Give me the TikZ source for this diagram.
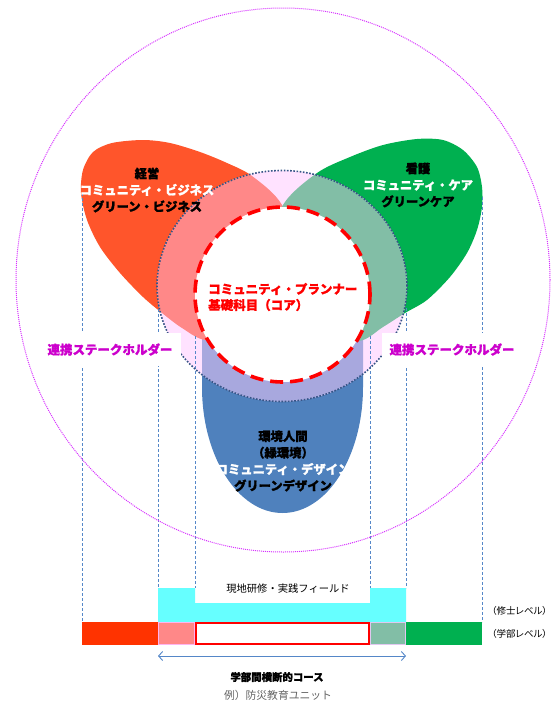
\documentclass[tikz,border=0pt]{standalone}
\usepackage{fontspec}
\newfontfamily\jp{Noto Sans CJK JP}[BoldFeatures={FakeBold=1.2}]
\newfontfamily\jpp{Noto Sans CJK JP}[RawFeature=+palt]
\usetikzlibrary{arrows.meta}
\definecolor{redA}{RGB}{255,85,43}
\definecolor{greenA}{RGB}{0,176,80}
\definecolor{blueA}{RGB}{79,129,189}
\definecolor{salmonA}{RGB}{255,136,136}
\definecolor{tealA}{RGB}{130,190,166}
\definecolor{lavA}{RGB}{168,168,222}
\definecolor{pinkA}{RGB}{255,226,255}
\definecolor{dotnavy}{RGB}{55,85,135}
\definecolor{guideblue}{RGB}{85,135,200}
\definecolor{magC}{RGB}{215,50,255}
\definecolor{magT}{RGB}{204,0,204}
\definecolor{barred}{RGB}{255,51,0}
\definecolor{cyanA}{RGB}{102,255,255}
\definecolor{pinkB}{RGB}{255,180,240}
\definecolor{lavB}{RGB}{225,200,240}
\definecolor{grayT}{RGB}{100,100,100}
\begin{document}
\begin{tikzpicture}[x=1pt,y=-1pt,
  vguide/.style={draw=guideblue, line width=0.8pt, dash pattern=on 3pt off 2pt},
  grp/.style={font=\jp\bfseries\fontsize{12.3}{16.5}\selectfont, align=center, inner sep=0pt},
  stake/.style={fill=white, text=magT, font=\jp\bfseries\fontsize{12.5}{14}\selectfont, inner xsep=8pt, inner ysep=0pt, minimum height=33pt},
  small/.style={font=\jp\fontsize{10.3}{12}\selectfont, inner sep=0pt},
  level/.style={font=\jpp\fontsize{9.5}{11}\selectfont, inner sep=0pt}
]
\useasboundingbox (0,0) rectangle (551,702);

\def\redpath{plot[smooth cycle] coordinates {(300,262) (282,205) (252,176) (227,163) (200,152) (170,143) (143,140) (112,143) (93,152) (83,170) (81,193) (87,220) (100,247) (120,273) (143,297) (162,313) (182,328) (206,340) (245,332)}}
\def\greenpath{plot[smooth cycle] coordinates {(265,262) (320,333) (359,341) (383,327) (405,313) (427,300) (450,277) (467,253) (477,230) (482,207) (482,187) (477,167) (463,150) (443,140) (417,139) (383,145) (350,157) (317,173) (283,205)}}
\def\bluepath{(202,300) -- (202,387) arc[start angle=180, end angle=360, x radius=80.5pt, y radius=126pt] -- (363,300) -- cycle}
\def\ringpath{(282,286) ellipse [x radius=125pt, y radius=115.5pt]}

% base petals
\fill[blueA] \bluepath;
\fill[redA] \redpath;
\fill[greenA] \greenpath;

% overlap ring
\fill[pinkA] \ringpath;
\begin{scope}
  \clip \ringpath;
  \fill[lavA] \bluepath;
  \fill[salmonA] \redpath;
  \fill[tealA] \greenpath;
\end{scope}

% guide lines
\coordinate (g1t) at (82,193);  \coordinate (g1b) at (82,622);
\coordinate (g2t) at (158,304); \coordinate (g2b) at (158,588);
\coordinate (g3t) at (195,336); \coordinate (g3b) at (195,588);
\coordinate (g4t) at (370,336); \coordinate (g4b) at (370,588);
\coordinate (g5t) at (406,308); \coordinate (g5b) at (406,588);
\coordinate (g6t) at (482,197); \coordinate (g6b) at (482,622);
\draw[vguide] (g1t) -- (g1b);
\draw[vguide] (g2t) -- (g2b);
\draw[vguide] (g3t) -- (g3b);
\draw[vguide] (g4t) -- (g4b);
\draw[vguide] (g5t) -- (g5b);
\draw[vguide] (g6t) -- (g6b);

% ring border
\draw[dotnavy, line width=1.6pt, dash pattern=on 1.6pt off 1.6pt] \ringpath;

% core
\draw[fill=white, draw=red, line width=3.6pt, dash pattern=on 13pt off 7pt] (282.5,294.5) circle[radius=87.5pt];

% stakeholder labels
\node[stake] (stakeL) at (110,349.5) {連携ステークホルダー};
\node[stake] (stakeR) at (452,349.5) {連携ステークホルダー};

% petal texts
\node[grp] (redtxt) at (147,190) {経営\\\textcolor{white}{コミュニティ・ビジネス}\\グリーン・ビジネス};
\node[grp] (greentxt) at (418,185) {看護\\\textcolor{white}{コミュニティ・ケア}\\グリーンケア};
\node[grp] (bluetxt) at (283,461) {環境人間\\（緑環境）\\\textcolor{white}{コミュニティ・デザイン}\\グリーンデザイン};
\node[grp, text=red, align=left, anchor=west, font=\jp\bfseries\fontsize{12.5}{16}\selectfont] (coretxt) at (208,297) {コミュニティ・プランナー\\基礎科目（コア）};

% outer circle
\draw[magC, line width=1pt, dash pattern=on 1pt off 1pt] (283,280) ellipse [x radius=267pt, y radius=272pt];

% bottom bars
\fill[cyanA] (158,588) -- (195,588) -- (195,603) -- (370,603) -- (370,588) -- (406,588) -- (406,622) -- (158,622) -- cycle;
\fill[barred] (82,622) rectangle (158,645);
\draw[fill=salmonA, draw=pinkB, line width=1.2pt] (158.6,622.6) rectangle (194.4,644.4);
\draw[fill=white, draw=red, line width=1.8pt] (195.9,622.9) rectangle (369.1,644.1);
\draw[fill=tealA, draw=lavB, line width=1.2pt] (370.6,622.6) rectangle (405.4,644.4);
\fill[greenA] (406,622) rectangle (482,645);

\node[small] (field) at (288,589) {現地研修・実践フィールド};
\node[level] (master) at (519.5,611) {（修士レベル）};
\node[level] (under) at (519.5,634) {（学部レベル）};

\coordinate (arL) at (158,656);
\coordinate (arR) at (406,656);
\draw[guideblue, line width=0.9pt, {Straight Barb[length=4pt,width=9pt]}-{Straight Barb[length=4pt,width=9pt]}] (arL) -- (arR);

\node[small, font=\jp\bfseries\fontsize{10.4}{12}\selectfont] (course) at (277,677) {学部間横断的コース};
\node[small, text=grayT, font=\jp\fontsize{10.8}{12}\selectfont] (example) at (278,695) {例）防災教育ユニット};
\end{tikzpicture}
\end{document}
